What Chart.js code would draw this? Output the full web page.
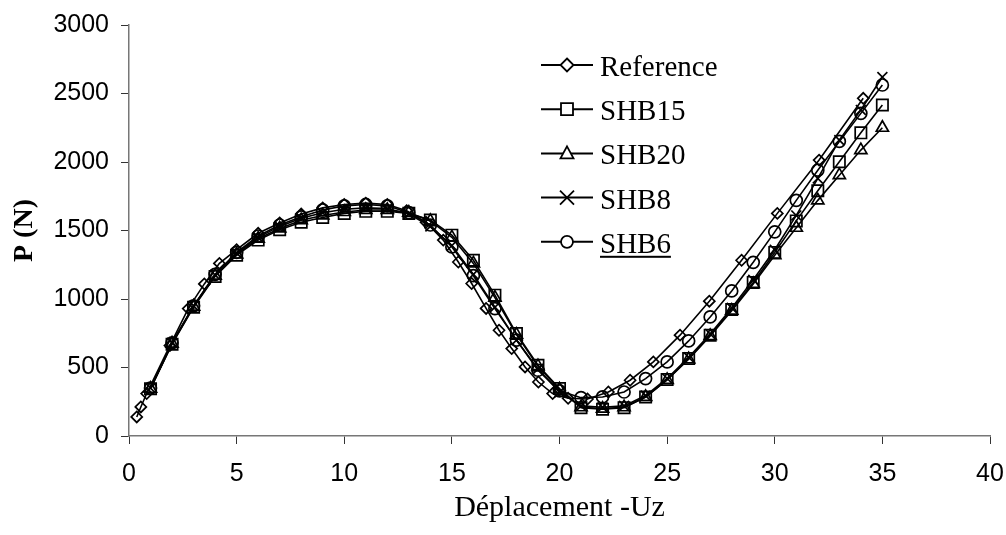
<!DOCTYPE html>
<html>
<head>
<meta charset="utf-8">
<script src="https://cdn.jsdelivr.net/npm/chart.js@4/dist/chart.umd.min.js"></script>
<style>
  html, body { margin: 0; padding: 0; background: #fff; }
  #wrap { width: 1006px; height: 535px; }
</style>
</head>
<body>
<div id="wrap"><canvas id="chart" width="1006" height="535"></canvas></div>
<script>
// displacement steps shared by the SHB series
const steps = [1, 2, 3, 4, 5, 6, 7, 8, 9, 10, 11, 12, 13, 14, 15, 16, 17, 18, 19, 20,
  21, 22, 23, 24, 25, 26, 27, 28, 29, 30, 31, 32, 33, 34, 35];

const shb15 = [345, 670, 940, 1165, 1320, 1430, 1505, 1560, 1595, 1625, 1640, 1640, 1625, 1576, 1466,
  1283, 1028, 748, 516, 346, 207, 195, 207, 285, 412, 565, 736, 923, 1121, 1340, 1570, 1790, 2002, 2213, 2416];
const shb20 = [345, 675, 945, 1170, 1325, 1440, 1515, 1575, 1610, 1635, 1650, 1650, 1630, 1570, 1450,
  1260, 1010, 740, 510, 340, 210, 200, 210, 285, 410, 560, 730, 915, 1110, 1320, 1520, 1720, 1904, 2087, 2250];
const shb8 = [350, 680, 950, 1175, 1335, 1450, 1530, 1590, 1630, 1655, 1665, 1660, 1620, 1530, 1390,
  1180, 940, 700, 490, 320, 220, 210, 220, 295, 420, 575, 745, 935, 1140, 1360, 1610, 1880, 2160, 2380, 2620];
const shb6 = [350, 680, 950, 1180, 1340, 1460, 1540, 1600, 1650, 1680, 1690, 1680, 1630, 1540, 1380,
  1170, 930, 700, 480, 330, 280, 285, 321, 419, 541, 694, 869, 1059, 1268, 1490, 1720, 1940, 2150, 2355, 2562];

// reference solution has its own steps
const refX = [0.36, 0.55, 0.82, 1.9, 2.75, 3.5, 4.2, 5.0, 6.0, 7.0, 8.0, 9.0, 10.0, 11.0, 12.0, 12.9,
  13.8, 14.6, 15.3, 15.92, 16.59, 17.19, 17.78, 18.4, 19.02, 19.68, 20.4, 21.3, 22.27, 23.28, 24.36,
  25.6, 26.96, 28.46, 30.12, 32.06, 34.11];
const refY = [139, 212, 310, 660, 930, 1110, 1260, 1360, 1480, 1555, 1620, 1665, 1690, 1700, 1690, 1645,
  1560, 1430, 1270, 1113, 931, 772, 638, 504, 394, 310, 275, 270, 321, 407, 541,
  736, 984, 1283, 1625, 2014, 2465];

const seriesNames = ['Reference', 'SHB15', 'SHB20', 'SHB8', 'SHB6'];
const xTicks = [0, 5, 10, 15, 20, 25, 30, 35, 40];
const yTicks = [0, 500, 1000, 1500, 2000, 2500, 3000];

function toPoints(xs, ys) {
  return xs.map((x, i) => ({ x: x, y: ys[i] }));
}

function makeSet(label, data, style, radius) {
  return {
    label: label,
    data: data,
    showLine: true,
    borderColor: '#000',
    borderWidth: 1.6,
    tension: 0,
    pointStyle: style,
    pointRadius: radius,
    pointBorderColor: '#000',
    pointBackgroundColor: 'rgba(0,0,0,0)',
    pointBorderWidth: 1.7
  };
}

// small marker painter for the legend (white filled)
function drawMarker(ctx, style, x, y) {
  ctx.beginPath();
  if (style === 'rectRot') {
    ctx.moveTo(x, y - 6.5); ctx.lineTo(x + 6.5, y); ctx.lineTo(x, y + 6.5); ctx.lineTo(x - 6.5, y); ctx.closePath();
  } else if (style === 'rect') {
    ctx.rect(x - 6, y - 6, 12, 12);
  } else if (style === 'triangle') {
    ctx.moveTo(x, y - 7); ctx.lineTo(x + 6.5, y + 5); ctx.lineTo(x - 6.5, y + 5); ctx.closePath();
  } else if (style === 'circle') {
    ctx.arc(x, y, 6, 0, Math.PI * 2);
  }
  if (style === 'crossRot') {
    ctx.moveTo(x - 7, y - 7); ctx.lineTo(x + 7, y + 7);
    ctx.moveTo(x + 7, y - 7); ctx.lineTo(x - 7, y + 7);
    ctx.stroke();
    return;
  }
  ctx.fillStyle = '#fff';
  ctx.fill();
  ctx.stroke();
}

const sideLegend = {
  id: 'sideLegend',
  afterDraw(chart) {
    const ctx = chart.ctx;
    ctx.save();
    ctx.strokeStyle = '#000';
    ctx.fillStyle = '#000';
    chart.data.datasets.forEach((ds, i) => {
      const y = 65 + i * 44.2;
      ctx.lineWidth = 2;
      ctx.beginPath();
      ctx.moveTo(541, y);
      ctx.lineTo(593, y);
      ctx.stroke();
      ctx.lineWidth = 1.8;
      drawMarker(ctx, ds.pointStyle, 567, y);
      ctx.fillStyle = '#000';
      ctx.font = '29px "Liberation Serif", "Times New Roman", serif';
      ctx.textAlign = 'left';
      ctx.textBaseline = 'alphabetic';
      ctx.fillText(ds.label, 600, y + 11);
      if (ds.label === 'SHB6') {
        const w = ctx.measureText(ds.label).width;
        ctx.fillRect(600, y + 14, w, 2);
      }
    });
    ctx.restore();
  }
};

new Chart(document.getElementById('chart'), {
  type: 'scatter',
  data: {
    datasets: [
      makeSet(seriesNames[0], toPoints(refX, refY), 'rectRot', 5.5),
      makeSet(seriesNames[1], toPoints(steps, shb15), 'rect', 8),
      makeSet(seriesNames[2], toPoints(steps, shb20), 'triangle', 7),
      makeSet(seriesNames[3], toPoints(steps, shb8), 'crossRot', 7),
      makeSet(seriesNames[4], toPoints(steps, shb6), 'circle', 6)
    ]
  },
  options: {
    responsive: false,
    animation: false,
    events: [],
    layout: { padding: { top: 25, right: 16, left: 0, bottom: 0 } },
    plugins: {
      legend: { display: false },
      tooltip: { enabled: false }
    },
    scales: {
      x: {
        type: 'linear',
        min: 0,
        max: 40,
        afterBuildTicks: s => { s.ticks = xTicks.map(v => ({ value: v })); },
        afterFit: s => { s.height = 99; s.paddingLeft = 0; s.paddingRight = 0; },
        grid: { drawOnChartArea: false, drawTicks: true, tickLength: 8, color: '#333', lineWidth: 1 },
        border: { display: true, color: '#777', width: 1.5 },
        ticks: {
          color: '#000',
          padding: 15,
          maxRotation: 0,
          callback: v => String(v),
          font: { family: '"Liberation Sans", Arial, sans-serif', size: 25 }
        },
        title: {
          display: true,
          text: 'Déplacement -Uz',
          color: '#000',
          padding: { bottom: 9 },
          font: { family: '"Liberation Serif", "Times New Roman", serif', size: 30 }
        }
      },
      y: {
        type: 'linear',
        min: 0,
        max: 3000,
        afterBuildTicks: s => { s.ticks = yTicks.map(v => ({ value: v })); },
        afterFit: s => { s.width = 129; s.paddingTop = 0; s.paddingBottom = 0; },
        grid: { drawOnChartArea: false, drawTicks: true, tickLength: 8, color: '#333', lineWidth: 1 },
        border: { display: true, color: '#777', width: 1.5 },
        ticks: {
          color: '#000',
          padding: 12,
          callback: v => String(v),
          font: { family: '"Liberation Sans", Arial, sans-serif', size: 25 }
        },
        title: {
          display: true,
          text: 'P (N)',
          color: '#000',
          padding: { top: 8 },
          font: { family: '"Liberation Serif", "Times New Roman", serif', size: 28, weight: 'bold' }
        }
      }
    }
  },
  plugins: [sideLegend]
});
</script>
</body>
</html>
